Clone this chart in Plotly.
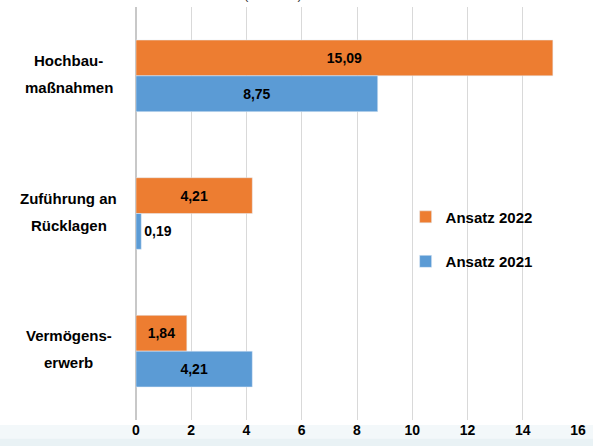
import plotly.graph_objects as go

categories = ["Hochbau-<br>maßnahmen", "Zuführung an<br>Rücklagen", "Vermögens-<br>erwerb"]
ansatz_2022 = [15.09, 4.21, 1.84]
ansatz_2021 = [8.75, 0.19, 4.21]
x_ticks = [0, 2, 4, 6, 8, 10, 12, 14, 16]

def fmt(v):
    return f"{v:.2f}".replace(".", ",")

def positions(vals):
    return ["inside" if v > 1 else "outside" for v in vals]

font_family = "Liberation Sans, Arial, sans-serif"

fig = go.Figure()
fig.add_trace(go.Bar(
    y=categories, x=ansatz_2022, orientation="h", name="Ansatz 2022",
    marker=dict(color="#ED7D31"), text=[fmt(v) for v in ansatz_2022],
    textposition=positions(ansatz_2022), insidetextanchor="middle",
    textfont=dict(color="black", size=14, family=font_family, weight="bold"),
    legendgroup="a",
))
fig.add_trace(go.Bar(
    y=categories, x=ansatz_2021, orientation="h", name="Ansatz 2021",
    marker=dict(color="#5B9BD5"), text=[fmt(v) for v in ansatz_2021],
    textposition=positions(ansatz_2021), insidetextanchor="middle",
    textfont=dict(color="black", size=14, family=font_family, weight="bold"),
    legendgroup="b",
))

# category labels (centered, multi-line)
for cat in categories:
    lines = cat.split("<br>")
    n = len(lines)
    for i, line in enumerate(lines):
        fig.add_annotation(text=line, xref="paper", yref="y", x=-0.152, y=cat,
                           xanchor="center", yanchor="middle",
                           yshift=(n - 1) * 13.5 - i * 27 + 2, showarrow=False,
                           font=dict(size=15, color="black", family=font_family, weight="bold"))

# soft band at the bottom
band = [(-0.045, -0.012, "#f3f8fa"), (-0.07, -0.045, "#e9f2f5"), (-0.2, -0.07, "#e1edf1")]
for y0, y1, col in band:
    fig.add_shape(type="rect", xref="paper", yref="paper", x0=-1, x1=2, y0=y0, y1=y1,
                  fillcolor=col, line=dict(width=0), layer="below")

# title of the original chart, mostly outside the visible crop
fig.add_annotation(text="(in Mio. €)", xref="paper", yref="paper", x=0.24, y=1.0,
                   yanchor="bottom", yshift=3, showarrow=False,
                   font=dict(size=13, color="#333", family=font_family))

fig.update_layout(
    width=593, height=446,
    margin=dict(l=136, r=15, t=7, b=26, autoexpand=False),
    paper_bgcolor="white", plot_bgcolor="white",
    barmode="group", bargap=0.48, bargroupgap=0,
    font=dict(family=font_family, size=14, color="black"),
    xaxis=dict(range=[0, 16], tickvals=x_ticks, showgrid=True, gridcolor="#d9d9d9",
               gridwidth=1, zeroline=True, zerolinecolor="#c8c8c8", zerolinewidth=2,
               tickfont=dict(size=14, family=font_family, weight="bold"),
               ticks="", fixedrange=True, automargin=False),
    yaxis=dict(autorange="reversed", showticklabels=False, fixedrange=True,
               ticks="", ticklen=0, showline=False, automargin=False),
    legend=dict(x=0.61, y=0.438, xanchor="left", yanchor="middle", bgcolor="rgba(0,0,0,0)",
                tracegroupgap=22, traceorder="grouped",
                font=dict(size=15, family=font_family, weight="bold")),
    showlegend=True,
)

fig.write_html("out.html", config={"displayModeBar": False},
               post_script="document.body.style.margin='0';document.body.style.overflow='hidden';")
